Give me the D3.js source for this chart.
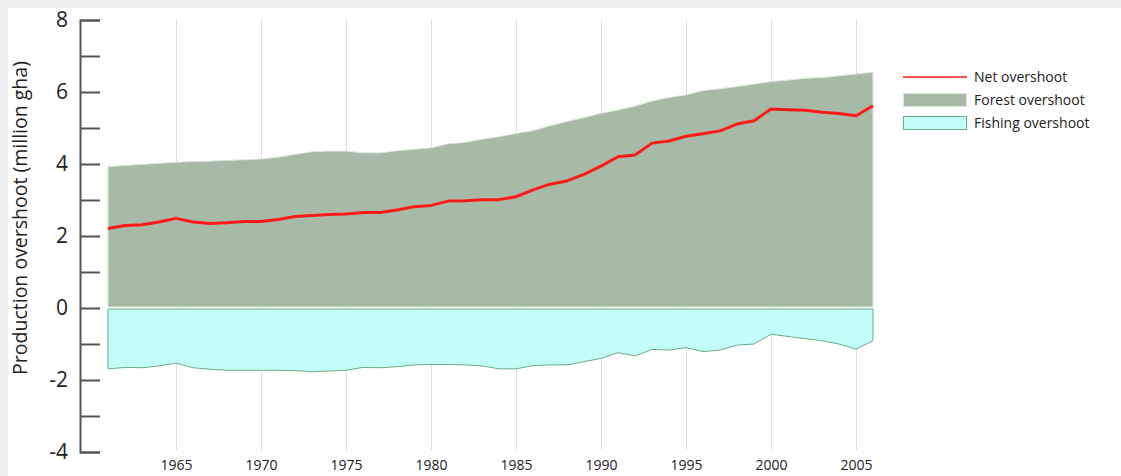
<!DOCTYPE html>
<html>
<head>
<meta charset="utf-8">
<script src="https://cdn.jsdelivr.net/npm/d3@7"></script>
<style>
    html, body { margin: 0; padding: 0; background: #eeeeee; }
    svg { display: block; }
    .grid line { stroke: #dedede; stroke-width: 1; }
    .yaxis path, .yaxis line { stroke: #555; stroke-width: 2; }
    .yaxis text { font-family: 'Open Sans', sans-serif; font-size: 21px; fill: #222; }
    .xaxis text { font-family: 'Liberation Sans Narrow', 'Open Sans', sans-serif; font-size: 14px; fill: #222; }
    .legend text { font-family: 'Open Sans', sans-serif; font-size: 14px; fill: #222; }
</style>
</head>
<body>
<svg width="1121" height="476"></svg>
<script>
// Values, one per year.
const years = [1961, 1962, 1963, 1964, 1965, 1966, 1967, 1968, 1969, 1970,
    1971, 1972, 1973, 1974, 1975, 1976, 1977, 1978, 1979, 1980,
    1981, 1982, 1983, 1984, 1985, 1986, 1987, 1988, 1989, 1990,
    1991, 1992, 1993, 1994, 1995, 1996, 1997, 1998, 1999, 2000,
    2001, 2002, 2003, 2004, 2005, 2006];

const netOvershoot = [2.21, 2.29, 2.31, 2.39, 2.49, 2.39, 2.35, 2.37, 2.40, 2.40,
    2.46, 2.54, 2.57, 2.60, 2.61, 2.65, 2.65, 2.72, 2.81, 2.85,
    2.97, 2.98, 3.01, 3.01, 3.09, 3.28, 3.44, 3.53, 3.71, 3.94,
    4.20, 4.25, 4.58, 4.64, 4.77, 4.84, 4.92, 5.11, 5.20, 5.53,
    5.51, 5.49, 5.44, 5.40, 5.34, 5.62];

const forestOvershoot = [3.93, 3.96, 3.99, 4.02, 4.05, 4.07, 4.08, 4.10, 4.12, 4.14,
    4.19, 4.27, 4.34, 4.36, 4.36, 4.31, 4.31, 4.37, 4.41, 4.45,
    4.56, 4.60, 4.69, 4.76, 4.85, 4.93, 5.06, 5.18, 5.29, 5.41,
    5.50, 5.61, 5.75, 5.85, 5.92, 6.04, 6.09, 6.15, 6.22, 6.29,
    6.33, 6.38, 6.40, 6.45, 6.50, 6.55];

const fishingOvershoot = [-1.69, -1.65, -1.66, -1.61, -1.53, -1.66, -1.70, -1.73, -1.73, -1.73,
    -1.73, -1.74, -1.77, -1.75, -1.73, -1.65, -1.66, -1.63, -1.58, -1.57,
    -1.57, -1.58, -1.61, -1.69, -1.69, -1.60, -1.58, -1.58, -1.49, -1.40,
    -1.24, -1.33, -1.15, -1.17, -1.10, -1.21, -1.17, -1.03, -1.00, -0.73,
    -0.79, -0.85, -0.91, -1.00, -1.14, -0.91];

const gridYears = [1965, 1970, 1975, 1980, 1985, 1990, 1995, 2000, 2005];
const yTicks = [-4, -3, -2, -1, 0, 1, 2, 3, 4, 5, 6, 7, 8];

const legendItems = [
    { label: 'Net overshoot', kind: 'line' },
    { label: 'Forest overshoot', kind: 'forest' },
    { label: 'Fishing overshoot', kind: 'fishing' },
];

const colors = {
    net: '#ff1a1a',
    forest: '#a7baa5',
    forestEdge: '#e2e8e1',
    fishing: '#c2fff9',
    fishingEdge: '#6aae86',
};

const svg = d3.select('svg');

// white panel on the grey page
svg.append('rect')
    .attr('x', 8).attr('y', 8)
    .attr('width', 1113).attr('height', 468)
    .attr('fill', '#fff');

const x = d3.scaleLinear().domain([1961, 2006]).range([108, 873]);
const y = d3.scaleLinear().domain([-4, 8]).range([452, 20]);

// vertical grid lines
svg.append('g')
    .attr('class', 'grid')
    .attr('transform', 'translate(0,450)')
    .call(d3.axisBottom(x).tickValues(gridYears).tickSize(-430).tickFormat(''))
    .call(g => g.select('.domain').remove());

const rows = years.map((yr, i) => ({
    year: yr, net: netOvershoot[i], forest: forestOvershoot[i], fishing: fishingOvershoot[i],
}));

// forest overshoot (positive side)
svg.append('path')
    .datum(rows)
    .attr('fill', colors.forest)
    .attr('stroke', colors.forestEdge)
    .attr('stroke-width', 1)
    .attr('d', d3.area()
        .x(d => x(d.year))
        .y0(y(0) - 1)
        .y1(d => y(d.forest)));

// fishing overshoot (negative side)
svg.append('path')
    .datum(rows)
    .attr('fill', colors.fishing)
    .attr('stroke', colors.fishingEdge)
    .attr('stroke-width', 1)
    .attr('d', d3.area()
        .x(d => x(d.year))
        .y0(y(0) + 1)
        .y1(d => y(d.fishing)));

// net overshoot line
svg.append('path')
    .datum(rows)
    .attr('fill', 'none')
    .attr('stroke', colors.net)
    .attr('stroke-width', 3)
    .attr('stroke-linejoin', 'round')
    .attr('d', d3.line().x(d => x(d.year)).y(d => y(d.net)));

// y axis: ticks point inwards, labels only on even values
svg.append('g')
    .attr('class', 'yaxis')
    .attr('transform', 'translate(80,0)')
    .call(d3.axisLeft(y)
        .tickValues(yTicks)
        .tickSizeInner(-20)
        .tickSizeOuter(-20)
        .tickPadding(12)
        .tickFormat(d => (d % 2 === 0 ? d3.format('d')(d).replace('−', '-') : '')));

svg.append('text')
    .attr('transform', 'translate(27,218) rotate(-90)')
    .attr('text-anchor', 'middle')
    .style('font-family', "'Open Sans', sans-serif")
    .style('font-size', '19.5px')
    .style('fill', '#222')
    .text('Production overshoot (million gha)');

// year labels along the bottom
svg.append('g')
    .attr('class', 'xaxis')
    .attr('transform', 'translate(0,459)')
    .call(d3.axisBottom(x).tickValues(gridYears).tickSize(0).tickPadding(0).tickFormat(d3.format('d')))
    .call(g => g.select('.domain').remove())
    .selectAll('text').attr('dy', '0.8em');

// legend
const legend = svg.append('g').attr('class', 'legend').attr('transform', 'translate(903,77)');
legendItems.forEach((item, i) => {
    const g = legend.append('g').attr('transform', `translate(0,${i * 23})`);
    if (item.kind === 'line') {
        g.append('line').attr('x1', 0).attr('x2', 64).attr('y1', 0).attr('y2', 0)
            .attr('stroke', colors.net).attr('stroke-width', 1.5);
    } else {
        g.append('rect').attr('x', 0.5).attr('y', -6.5).attr('width', 63).attr('height', 13)
            .attr('fill', item.kind === 'forest' ? colors.forest : colors.fishing)
            .attr('stroke', item.kind === 'forest' ? colors.forestEdge : colors.fishingEdge)
            .attr('stroke-width', 1);
    }
    g.append('text').attr('x', 71).attr('y', 0).attr('dy', '0.35em').text(item.label);
});
</script>
</body>
</html>
